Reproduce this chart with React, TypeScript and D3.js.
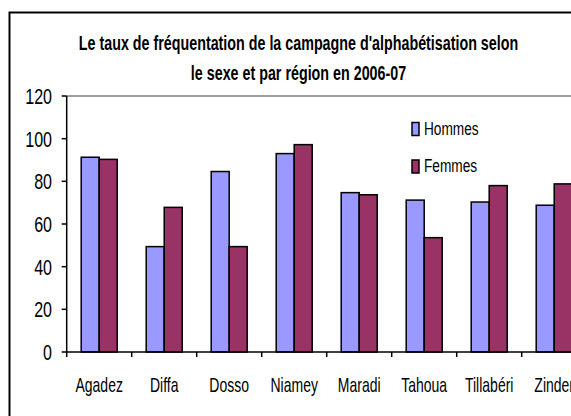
import React from "react";
import * as d3 from "d3";

const categories = ["Agadez", "Diffa", "Dosso", "Niamey", "Maradi", "Tahoua", "Tillabéri", "Zinder"];
const hommes = [91.3, 49.4, 84.6, 93.0, 74.7, 71.2, 70.3, 68.8];
const femmes = [90.3, 67.8, 49.4, 97.2, 73.7, 53.6, 78.0, 78.8];
const seriesNames = ["Hommes", "Femmes"];
const seriesColors = ["#9999FF", "#993366"];
const yTicks = [0, 20, 40, 60, 80, 100, 120];
const titleLines = [
  "Le taux de fréquentation de la campagne d'alphabétisation selon",
  "le sexe et par région en 2006-07",
];

const FONT = "'Liberation Sans', Arial, sans-serif";

function NText(props: {
  x: number;
  y: number;
  anchor?: "start" | "middle" | "end";
  size: number;
  sx: number;
  bold?: boolean;
  children: React.ReactNode;
}) {
  return (
    <text
      transform={`translate(${props.x},${props.y}) scale(${props.sx},1)`}
      textAnchor={props.anchor || "start"}
      fontSize={props.size}
      fontWeight={props.bold ? "bold" : "normal"}
      fontFamily={FONT}
      fill="#000"
    >
      {props.children}
    </text>
  );
}

export default function App() {
  const W = 571;
  const H = 416;
  const plotLeft = 66.7;
  const band = 65;
  const x = d3
    .scaleBand<string>()
    .domain(categories)
    .range([plotLeft, plotLeft + band * categories.length])
    .padding(0);
  const inner = d3
    .scaleBand<string>()
    .domain(seriesNames)
    .range([0, x.bandwidth()])
    .paddingInner(0)
    .paddingOuter(0.806);
  const y = d3.scaleLinear().domain([0, 120]).range([352, 96]);
  const series = [hommes, femmes];
  const boundaries = d3.range(categories.length + 1).map((i) => plotLeft + i * band);

  return (
    <svg
      width={W}
      height={H}
      style={{ position: "absolute", left: 0, top: 0, background: "#fff" }}
      fontFamily={FONT}
    >
      <rect x={0} y={0} width={W} height={H} fill="#fff" />
      {/* outer frame */}
      <rect x={9.5} y={12.5} width={W + 20} height={H + 20} fill="none" stroke="#000" strokeWidth={2} />
      {/* title */}
      <NText x={298.5} y={50} anchor="middle" size={20} sx={0.715} bold>
        {titleLines[0]}
      </NText>
      <NText x={298.5} y={80} anchor="middle" size={20} sx={0.715} bold>
        {titleLines[1]}
      </NText>
      {/* plot area top border */}
      <line x1={plotLeft} x2={W} y1={y(120)} y2={y(120)} stroke="#808080" strokeWidth={1.5} />
      {/* bars */}
      {categories.map((c, i) =>
        series.map((s, j) => (
          <rect
            key={c + j}
            x={(x(c) as number) + (inner(seriesNames[j]) as number)}
            y={y(s[i])}
            width={inner.bandwidth()}
            height={y(0) - y(s[i])}
            fill={seriesColors[j]}
            stroke="#000"
            strokeWidth={1.5}
          />
        ))
      )}
      {/* y axis */}
      <line x1={plotLeft} x2={plotLeft} y1={y(120)} y2={y(0)} stroke="#000" strokeWidth={1.5} />
      {yTicks.map((t) => (
        <g key={t}>
          <line x1={plotLeft - 5} x2={plotLeft} y1={y(t)} y2={y(t)} stroke="#000" strokeWidth={1.5} />
          <NText x={52} y={y(t) + 8} anchor="end" size={22} sx={0.73}>
            {t}
          </NText>
        </g>
      ))}
      {/* x axis */}
      <line x1={plotLeft} x2={W} y1={y(0)} y2={y(0)} stroke="#000" strokeWidth={1.5} />
      {boundaries.map((b, i) => (
        <line key={i} x1={b} x2={b} y1={y(0)} y2={y(0) + 5} stroke="#000" strokeWidth={1.5} />
      ))}
      {categories.map((c) => (
        <NText key={c} x={(x(c) as number) + x.bandwidth() / 2} y={392} anchor="middle" size={20} sx={0.7}>
          {c}
        </NText>
      ))}
      {/* legend */}
      {seriesNames.map((n, j) => (
        <g key={n}>
          <rect x={412} y={122.5 + j * 37.5} width={7} height={13} fill={seriesColors[j]} stroke="#000" strokeWidth={1.5} />
          <NText x={424} y={134.5 + j * 37.5} size={19} sx={0.72}>
            {n}
          </NText>
        </g>
      ))}
    </svg>
  );
}
